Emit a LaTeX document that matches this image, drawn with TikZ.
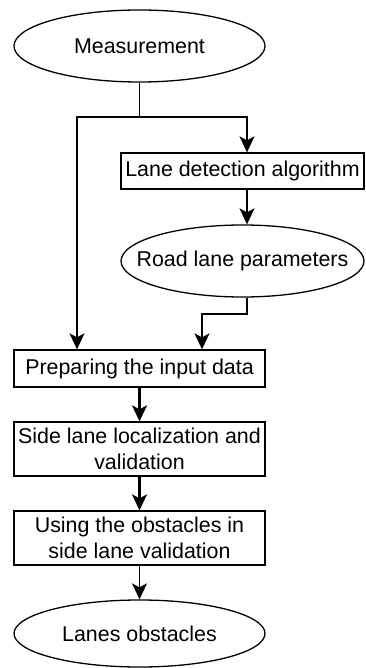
\documentclass[tikz,border=0pt]{standalone}
\usepackage{fontspec}
\setmainfont{Liberation Sans}
\usetikzlibrary{arrows.meta,shapes.geometric,calc}
\begin{document}
\begin{tikzpicture}[x=1pt,y=-1pt,
  every node/.style={font=\fontsize{21.4}{26}\selectfont, inner sep=0pt, align=center},
  terminal/.style={draw, ellipse, line width=1.3pt, minimum width=#1, minimum height=72pt},
  terminal/.default=251pt,
  stepbox/.style={draw, rectangle, line width=1.3pt, minimum width=251pt},
  link/.style={line width=1.4pt},
  flow/.style={line width=1.4pt, -{Stealth[length=16pt,width=15pt,inset=4pt]}},
  heavyflow/.style={flow, line width=2.2pt}]
\useasboundingbox (0,0) rectangle (365,668);

% nodes (ellipse text is set as a centred label so the outline keeps its size)
\node[terminal, label=center:Measurement] (meas) at (139.5,46) {};
\node[stepbox, minimum width=243pt, minimum height=36pt] (lda) at (242.5,171) {Lane detection algorithm};
\node[terminal=243pt, label=center:Road lane parameters] (rlp) at (242.5,261) {};
\node[stepbox, minimum height=37pt] (prep) at (139.5,368.5) {Preparing the input data};
\node[stepbox, minimum height=54pt] (side) at (139.5,449) {Side lane localization and\\validation};
\node[stepbox, minimum height=54pt] (use) at (139.5,538) {Using the obstacles in\\side lane validation};
\node[terminal, minimum height=67pt, label=center:Lanes obstacles] (lanes) at (139.5,633.5) {};

% branch points
\coordinate (split) at (139.5,117);
\coordinate (splitL) at (77,117);
\coordinate (splitR) at (247,117);
\coordinate (jogA) at (247,314);
\coordinate (jogB) at (202,314);

% connectors
\draw[link] (meas.south) -- (split);
\draw[flow] (split) -- (splitL) -- (splitL |- prep.north);
\draw[flow] (split) -- (splitR) -- (splitR |- lda.north);
\draw[flow] (lda.south -| splitR) -- (splitR |- rlp.north);
\draw[flow] (rlp.south -| jogA) -- (jogA) -- (jogB) -- (jogB |- prep.north);
\draw[heavyflow] (prep) -- (side);
\draw[heavyflow] (side) -- (use);
\draw[flow] (use) -- (lanes);
\end{tikzpicture}
\end{document}
